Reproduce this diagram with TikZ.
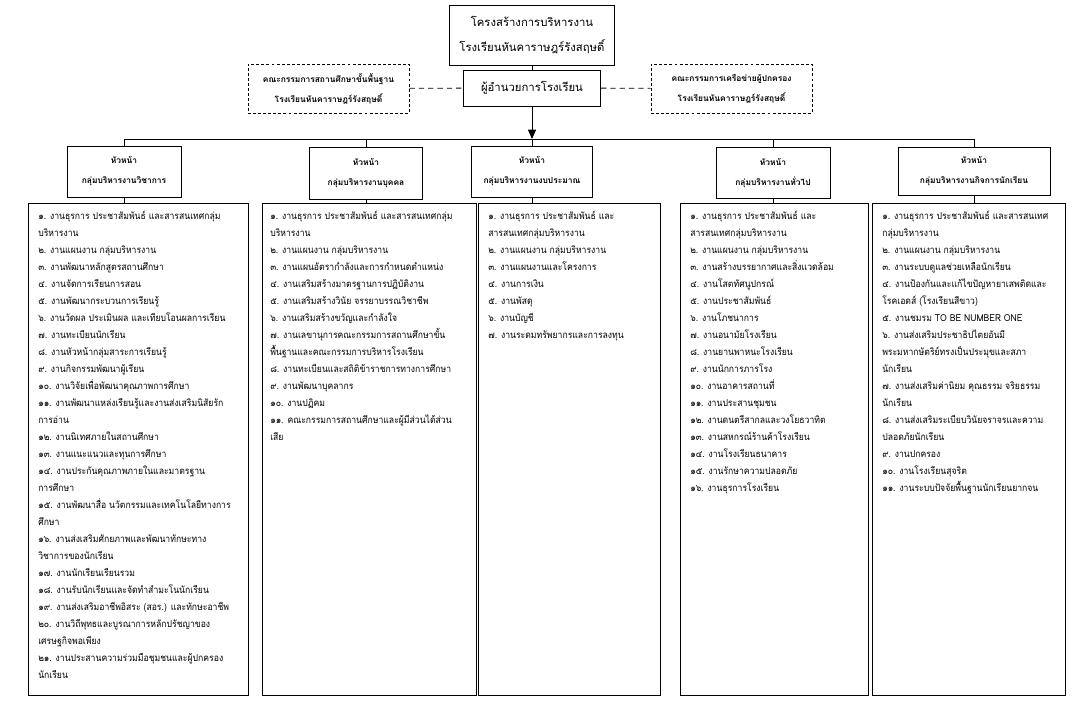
\documentclass[tikz,border=0pt]{standalone}
\usepackage{fontspec}
\setmainfont[Script=Thai]{Loma}
\newfontfamily\listfont[Script=Thai,FakeStretch=0.9]{Loma}
\usetikzlibrary{arrows.meta}
\begin{document}
\begin{tikzpicture}[x=0.75pt,y=-0.75pt,
  wh/.style 2 args={minimum width=#1*0.75pt, minimum height=#2*0.75pt},
  box/.style={draw, line width=0.65pt, inner sep=0pt, align=center},
  dbox/.style={box, dash pattern=on 2.2pt off 1.6pt, font=\bfseries\fontsize{6.3}{15}\selectfont},
  ttl/.style={box, font=\fontsize{8.5}{18.75}\selectfont},
  hdr/.style={box, font=\bfseries\fontsize{6.3}{15}\selectfont},
  lbox/.style={draw, line width=0.65pt, inner sep=0pt},
  ltext/.style={font=\listfont\fontsize{7.2}{12.75}\selectfont, align=left, inner sep=0pt, anchor=north west},
  conn/.style={line width=0.65pt},
  dconn/.style={line width=0.65pt, dash pattern=on 4pt off 3pt}
]
\useasboundingbox (0,0) rectangle (1082,716);
% top
\node[ttl, wh={165}{60}] (title) at (532,35) {โครงสร้างการบริหารงาน\\โรงเรียนหันคาราษฎร์รังสฤษดิ์};
\node[ttl, wh={137}{36}] (dir) at (532,88) {ผู้อำนวยการโรงเรียน};
\node[dbox, wh={161}{49}] (lcom) at (328.5,88.5) {คณะกรรมการสถานศึกษาขั้นพื้นฐาน\\โรงเรียนหันคาราษฎร์รังสฤษดิ์};
\node[dbox, wh={161}{49}] (rcom) at (731.5,88.5) {คณะกรรมการเครือข่ายผู้ปกครอง\\โรงเรียนหันคาราษฎร์รังสฤษดิ์};
\coordinate (hub) at (532,139);
% headers
\node[hdr, wh={114}{51}] (h1) at (124,171.5) {หัวหน้า\\กลุ่มบริหารงานวิชาการ};
\node[hdr, wh={113}{52}] (h2) at (366,173) {หัวหน้า\\กลุ่มบริหารงานบุคคล};
\node[hdr, wh={121}{51}] (h3) at (532,171.5) {หัวหน้า\\กลุ่มบริหารงานงบประมาณ};
\node[hdr, wh={114}{51}] (h4) at (773,173) {หัวหน้า\\กลุ่มบริหารงานทั่วไป};
\node[hdr, wh={152}{48}] (h5) at (974,171) {หัวหน้า\\กลุ่มบริหารงานกิจการนักเรียน};
% list boxes
\node[lbox, wh={220}{492}] (l1) at (138,449) {};
\node[lbox, wh={214}{492}] (l2) at (369,449) {};
\node[lbox, wh={182}{492}] (l3) at (569,449) {};
\node[lbox, wh={188}{492}] (l4) at (774,449) {};
\node[lbox, wh={193}{492}] (l5) at (968.5,449) {};
% connectors
\draw[conn] (title) -- (dir);
\draw[dconn] (lcom) -- (dir);
\draw[dconn] (dir) -- (rcom);
\draw[conn, -{Triangle[width=6pt,length=7pt]}] (dir) -- (hub);
\draw[conn] (h1.north) -- (h1.north |- hub) -- (h5.north |- hub) -- (h5.north);
\draw[conn] (h2.north) -- (h2.north |- hub);
\draw[conn] (h3.north) -- (hub);
\draw[conn] (h4.north) -- (h4.north |- hub);
\draw[conn] (h1.south) -- (h1.south |- l1.north);
\draw[conn] (h2.south) -- (h2.south |- l2.north);
\draw[conn] (h3.south) -- (h3.south |- l3.north);
\draw[conn] (h4.south) -- (h4.south |- l4.north);
\draw[conn] (h5.south) -- (h5.south |- l5.north);
% list texts
\node[ltext] (t1) at (38,211) {%
๑. งานธุรการ ประชาสัมพันธ์ และสารสนเทศกลุ่ม\\
บริหารงาน\\
๒. งานแผนงาน กลุ่มบริหารงาน\\
๓. งานพัฒนาหลักสูตรสถานศึกษา\\
๔. งานจัดการเรียนการสอน\\
๕. งานพัฒนากระบวนการเรียนรู้\\
๖. งานวัดผล ประเมินผล และเทียบโอนผลการเรียน\\
๗. งานทะเบียนนักเรียน\\
๘. งานหัวหน้ากลุ่มสาระการเรียนรู้\\
๙. งานกิจกรรมพัฒนาผู้เรียน\\
๑๐. งานวิจัยเพื่อพัฒนาคุณภาพการศึกษา\\
๑๑. งานพัฒนาแหล่งเรียนรู้และงานส่งเสริมนิสัยรัก\\
การอ่าน\\
๑๒. งานนิเทศภายในสถานศึกษา\\
๑๓. งานแนะแนวและทุนการศึกษา\\
๑๔. งานประกันคุณภาพภายในและมาตรฐาน\\
การศึกษา\\
๑๕. งานพัฒนาสื่อ นวัตกรรมและเทคโนโลยีทางการ\\
ศึกษา\\
๑๖. งานส่งเสริมศักยภาพและพัฒนาทักษะทาง\\
วิชาการของนักเรียน\\
๑๗. งานนักเรียนเรียนรวม\\
๑๘. งานรับนักเรียนและจัดทำสำมะโนนักเรียน\\
๑๙. งานส่งเสริมอาชีพอิสระ (สอร.) และทักษะอาชีพ\\
๒๐. งานวิถีพุทธและบูรณาการหลักปรัชญาของ\\
เศรษฐกิจพอเพียง\\
๒๑. งานประสานความร่วมมือชุมชนและผู้ปกครอง\\
นักเรียน};
\node[ltext] (t2) at (270,211) {%
๑. งานธุรการ ประชาสัมพันธ์ และสารสนเทศกลุ่ม\\
บริหารงาน\\
๒. งานแผนงาน กลุ่มบริหารงาน\\
๓. งานแผนอัตรากำลังและการกำหนดตำแหน่ง\\
๔. งานเสริมสร้างมาตรฐานการปฏิบัติงาน\\
๕. งานเสริมสร้างวินัย จรรยาบรรณวิชาชีพ\\
๖. งานเสริมสร้างขวัญและกำลังใจ\\
๗. งานเลขานุการคณะกรรมการสถานศึกษาขั้น\\
พื้นฐานและคณะกรรมการบริหารโรงเรียน\\
๘. งานทะเบียนและสถิติข้าราชการทางการศึกษา\\
๙. งานพัฒนาบุคลากร\\
๑๐. งานปฏิคม\\
๑๑. คณะกรรมการสถานศึกษาและผู้มีส่วนได้ส่วน\\
เสีย};
\node[ltext] (t3) at (488,211) {%
๑. งานธุรการ ประชาสัมพันธ์ และ\\
สารสนเทศกลุ่มบริหารงาน\\
๒. งานแผนงาน กลุ่มบริหารงาน\\
๓. งานแผนงานและโครงการ\\
๔. งานการเงิน\\
๕. งานพัสดุ\\
๖. งานบัญชี\\
๗. งานระดมทรัพยากรและการลงทุน};
\node[ltext] (t4) at (690,211) {%
๑. งานธุรการ ประชาสัมพันธ์ และ\\
สารสนเทศกลุ่มบริหารงาน\\
๒. งานแผนงาน กลุ่มบริหารงาน\\
๓. งานสร้างบรรยากาศและสิ่งแวดล้อม\\
๔. งานโสตทัศนูปกรณ์\\
๕. งานประชาสัมพันธ์\\
๖. งานโภชนาการ\\
๗. งานอนามัยโรงเรียน\\
๘. งานยานพาหนะโรงเรียน\\
๙. งานนักการภารโรง\\
๑๐. งานอาคารสถานที่\\
๑๑. งานประสานชุมชน\\
๑๒. งานดนตรีสากลและวงโยธวาทิต\\
๑๓. งานสหกรณ์ร้านค้าโรงเรียน\\
๑๔. งานโรงเรียนธนาคาร\\
๑๕. งานรักษาความปลอดภัย\\
๑๖. งานธุรการโรงเรียน};
\node[ltext] (t5) at (882,211) {%
๑. งานธุรการ ประชาสัมพันธ์ และสารสนเทศ\\
กลุ่มบริหารงาน\\
๒. งานแผนงาน กลุ่มบริหารงาน\\
๓. งานระบบดูแลช่วยเหลือนักเรียน\\
๔. งานป้องกันและแก้ไขปัญหายาเสพติดและ\\
โรคเอดส์ (โรงเรียนสีขาว)\\
๕. งานชมรม TO BE NUMBER ONE\\
๖. งานส่งเสริมประชาธิปไตยอันมี\\
พระมหากษัตริย์ทรงเป็นประมุขและสภา\\
นักเรียน\\
๗. งานส่งเสริมค่านิยม คุณธรรม จริยธรรม\\
นักเรียน\\
๘. งานส่งเสริมระเบียบวินัยจราจรและความ\\
ปลอดภัยนักเรียน\\
๙. งานปกครอง\\
๑๐. งานโรงเรียนสุจริต\\
๑๑. งานระบบปัจจัยพื้นฐานนักเรียนยากจน};
\end{tikzpicture}
\end{document}
